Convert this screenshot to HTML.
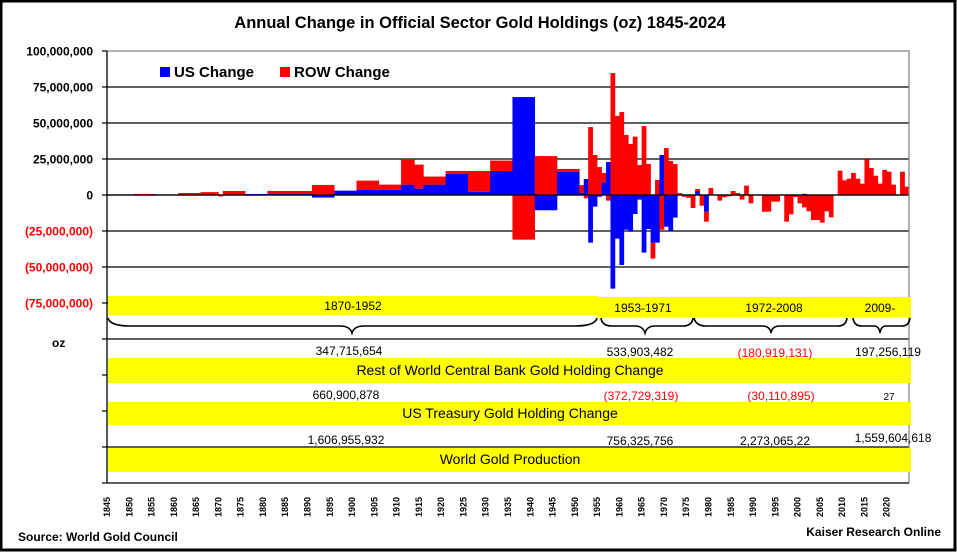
<!DOCTYPE html>
<html><head><meta charset="utf-8"><style>
html,body{margin:0;padding:0;background:#fff}
svg{display:block;font-family:"Liberation Sans",Arial,sans-serif}
.b{font-weight:bold}
.n{font-size:12px;font-stretch:condensed}
</style></head><body>
<svg id="chart" width="957" height="552" viewBox="0 0 957 552">
<rect x="1" y="1" width="954" height="549" fill="#fff" stroke="#000" stroke-width="3"/>
<text x="480" y="28" text-anchor="middle" class="b" font-size="16.5">Annual Change in Official Sector Gold Holdings (oz)  1845-2024</text>
<g id="grid"></g>
<g id="bars"></g>
<g id="axes"></g>
<g>
<rect x="160" y="67" width="10" height="10" fill="#0000ff"/>
<text x="174" y="77" class="b" font-size="15">US Change</text>
<rect x="280" y="67" width="10" height="10" fill="#ff0000"/>
<text x="294" y="77" class="b" font-size="15">ROW Change</text>
</g>
<g>
<rect x="108" y="296" width="490" height="19" fill="#ffff00"/>
<rect x="597" y="297" width="314" height="20" fill="#ffff00"/>
<text x="353" y="310" text-anchor="middle" class="n">1870-1952</text>
<text x="643" y="312" text-anchor="middle" class="n">1953-1971</text>
<text x="774" y="312" text-anchor="middle" class="n">1972-2008</text>
<text x="880" y="312" text-anchor="middle" class="n">2009-</text>
<g fill="none" stroke="#000" stroke-width="1.6">
<path d="M108,318 Q110,326 130,326 L340,326 Q350,326 352,333 Q354,326 364,326 L575,326 Q595,326 597,318"/>
<path d="M601,318 Q602,326 612,326 L635,326 Q643,326 645,333 Q647,326 655,326 L683,326 Q692,326 693,318"/>
<path d="M694,318 Q696,326 706,326 L762,326 Q770,326 771,333 Q772,326 780,326 L838,326 Q846,326 847,318"/>
<path d="M853,318 Q854,326 862,326 L874,326 Q879,326 880,333 Q881,326 886,326 L902,326 Q909,326 910,318"/>
</g>
</g>
<text x="52" y="347" class="b" font-size="12">oz</text>
<g>
<rect x="108" y="358" width="803" height="25" fill="#ffff00"/>
<text x="510" y="375" text-anchor="middle" font-size="14" font-stretch="condensed">Rest of World Central Bank Gold Holding Change</text>
<rect x="108" y="402" width="803" height="23" fill="#ffff00"/>
<text x="510" y="418" text-anchor="middle" font-size="14">US Treasury Gold Holding Change</text>
<rect x="108" y="448" width="803" height="24" fill="#ffff00"/>
<text x="510" y="464" text-anchor="middle" font-size="14">World Gold Production</text>
<g class="n" text-anchor="middle">
<text x="349" y="355">347,715,654</text>
<text x="640" y="356">533,903,482</text>
<text x="775" y="357" fill="#ff0000">(180,919,131)</text>
<text x="888" y="356">197,256,119</text>
<text x="346" y="399">660,900,878</text>
<text x="641" y="400" fill="#ff0000">(372,729,319)</text>
<text x="781" y="400" fill="#ff0000">(30,110,895)</text>
<text x="889" y="400" font-size="10">27</text>
<text x="346" y="444">1,606,955,932</text>
<text x="640" y="445">756,325,756</text>
<text x="775" y="445">2,273,065,22</text>
<text x="893" y="442">1,559,604,618</text>
</g>
</g>
<text x="18" y="541" class="b" font-size="12">Source:  World Gold Council</text>
<text x="941" y="536" text-anchor="end" class="b" font-size="12">Kaiser Research Online</text>
</svg>
<script>
// values in millions of oz, one per year 1845..2024
const firstYear = 1845;
const usChange = [
0,0,0,0,0,0, 0,0,0,0,0, 0,0,0,0,0, 0,0,0,0,0, 0,0,0,0, 0, 0,0,0,0,0,
0.7,0.7,0.7,0.7,0.7, 0.7,0.7,0.7,0.7,0.7,0.7,0.7,0.7,0.7,0.7,
-1.8,-1.8,-1.8,-1.8,-1.8, 3,3,3,3,3, 3.7,3.7,3.7,3.7,3.7, 3.7,3.7,3.7,3.7,3.7,
7.2,7.2,7.2, 4.4,4.4, 7.2,7.2,7.2,7.2,7.2, 14.8,14.8,14.8,14.8,14.8,
2.3,2.3,2.3,2.3,2.3, 16.7,16.7,16.7,16.7,16.7, 68,68,68,68,68,
-10.6,-10.6,-10.6,-10.6,-10.6, 16.2,16.2,16.2,16.2,16.2,
1.6,11.1,-33.1,-8.1,-1.2,8.8,22.9,-65,-30.3,-48.6,
-24.1,-25.5,-13.2,-3.2,-40,-23.6,-33.1,-33.1,27.8,-22,
-24.8,-15.7,0,0,0,0,2.8,0,-11.6,0,
0,0,0,0,0,0,0,0,0,0,
0,0,0,0,0,0,0,0,0,0,
0.8,0,0,0,0,0,0,0,0,0,
0,0,0,0,0,0,0,0,0,0,
0,0,0,0
];
const rowChange = [
0,0,0,0,0,0, 0.7,0.7,0.7,0.7,0.7, 0,0,0,0,0, 1.4,1.4,1.4,1.4,1.4, 2,2,2,2, -1, 2.8,2.8,2.8,2.8,2.8,
0,0,0,0,0, 2.1,2.1,2.1,2.1,2.1,2.1,2.1,2.1,2.1,2.1,
7,7,7,7,7, 0,0,0,0,0, 6.3,6.3,6.3,6.3,6.3, 3.5,3.5,3.5,3.5,3.5,
17.8,17.8,17.8, 16.7,16.7, 5.6,5.6,5.6,5.6,5.6, 1.9,1.9,1.9,1.9,1.9,
14.4,14.4,14.4,14.4,14.4, 7.2,7.2,7.2,7.2,7.2, -31,-31,-31,-31,-31,
27,27,27,27,27, 1.9,1.9,1.9,1.9,1.9,
5.3,-2.3,47.2,27.8,19.4,6.5,-3.9,84.7,54.9,57.6,
41.7,35.4,40.5,20.8,47.9,21.5,-11.1,10.4,-24.1,32.6,
23.6,21.5,1.4,-1.2,-1.9,-9,1.4,-7.4,-6.9,4.9,
0,-3.9,-1.6,-1,2.8,1.4,-3.2,6.5,-5.8,0,
0,-11.6,-11.6,-4.6,-4.6,0,-18.5,-13.4,-1.4,-5.8,
-8.6,-11.3,-17.4,-17.4,-19.2,-11.3,-15.5,0,16.9,10.2,
11.3,15.3,11.3,7.9,24.8,18.8,13.4,7.9,17.4,16.2,
7.2,0,16.2,5.8
];
const yTicks = [100,75,50,25,0,-25,-50,-75];
const yTickLabels = ["100,000,000","75,000,000","50,000,000","25,000,000","0","(25,000,000)","(50,000,000)","(75,000,000)"];
const xLabelYears = [1845,1850,1855,1860,1865,1870,1875,1880,1885,1890,1895,1900,1905,1910,1915,1920,1925,1930,1935,1940,1945,1950,1955,1960,1965,1970,1975,1980,1985,1990,1995,2000,2005,2010,2015,2020];

const NS = "http://www.w3.org/2000/svg";
const L = 107, R = 909, T = 51, B = 483, Y0 = 195, PX = 36/25;
const nYears = 180;
const bw = (R - L) / nYears;
function xs(i){ return L + i * bw; }
function ys(v){ return Y0 - v * PX; }
function mk(tag, attrs, parent){ const e = document.createElementNS(NS, tag); for (const k in attrs) e.setAttribute(k, attrs[k]); parent.appendChild(e); return e; }

const grid = document.getElementById('grid');
const bars = document.getElementById('bars');
const axes = document.getElementById('axes');

yTicks.forEach((t, i) => {
  const y = ys(t);
  if (i > 0) {
    const g = mk('line', {x1:L, x2:R, y1:y, y2:y, stroke:'#000', 'stroke-width':1.3}, grid);
    
    
  }
  const tx = mk('text', {x:93, y:y+4.5, 'text-anchor':'end', 'font-size':12, 'font-weight':'bold', fill: t < 0 ? '#ff0000' : '#000'}, axes);
  tx.textContent = yTickLabels[i];
  
  
});
[339, 447].forEach(y => {
  const g = mk('line', {x1:L, x2:R, y1:y, y2:y, stroke:'#000', 'stroke-width':1.3}, grid);
  
  
});

rowChange.forEach((r, i) => {
  const u = usChange[i] || 0;
  let pos = 0, neg = 0;
  [[u, '#0000ff', 'bar-us'], [r, '#ff0000', 'bar-row']].forEach(([v, c, nm]) => {
    if (!v) return;
    let top, bot;
    if (v > 0) { bot = ys(pos); pos += v; top = ys(pos); }
    else { top = ys(neg); neg += v; bot = ys(neg); }
    const b = mk('rect', {x:xs(i), y:top, width:bw+0.3, height:bot-top, fill:c}, bars);
    
    
  });
});
const z = mk('line', {x1:L, x2:R, y1:Y0, y2:Y0, stroke:'#000', 'stroke-width':1.3}, axes);



const frame = mk('path', {d:`M${L},${T} L${R},${T} L${R},${B}`, fill:'none', stroke:'#888', 'stroke-width':1.3}, axes);


const yax = mk('line', {x1:L, x2:L, y1:T, y2:B, stroke:'#000', 'stroke-width':1.3}, axes);


const xax = mk('line', {x1:L, x2:R, y1:B, y2:B, stroke:'#000', 'stroke-width':1.3}, axes);


for (let y = T; y <= B + 0.5; y += 36) {
  const t = mk('line', {x1:L-5, x2:L, y1:y, y2:y, stroke:'#000', 'stroke-width':1.2}, axes);
  
  
}
xLabelYears.forEach(yr => {
  const x = xs(yr - firstYear) + 3;
  const t = mk('text', {x:0, y:0, transform:`translate(${x},517) rotate(-90)`, 'font-size':9, 'font-weight':'bold'}, axes);
  t.textContent = yr;
  
  
});
</script>
</body></html>
